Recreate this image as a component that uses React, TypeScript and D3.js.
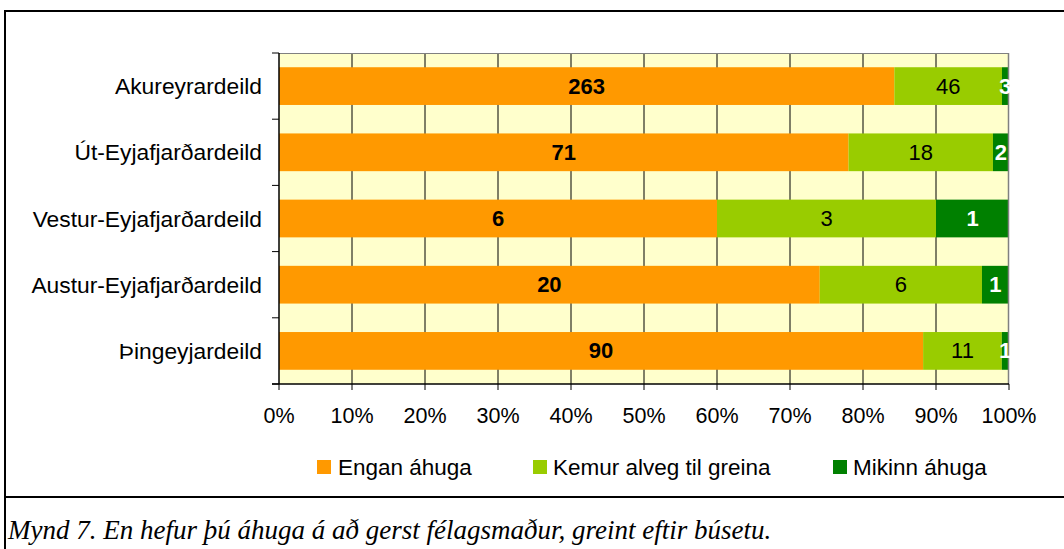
import React from "react";
import * as d3 from "d3";

const categories = ["Akureyrardeild", "Út-Eyjafjarðardeild", "Vestur-Eyjafjarðardeild", "Austur-Eyjafjarðardeild", "Þingeyjardeild"];
const enganAhuga = [263, 71, 6, 20, 90];
const kemurAlveg = [46, 18, 3, 6, 11];
const mikinnAhuga = [3, 2, 1, 1, 1];
const seriesNames = ["Engan áhuga", "Kemur alveg til greina", "Mikinn áhuga"];
const seriesColors = ["#FF9900", "#99CC00", "#008000"];
const labelStyles = [
  { fill: "#000", weight: "bold" },
  { fill: "#000", weight: "normal" },
  { fill: "#fff", weight: "bold" },
];
const xTicks = [0, 0.1, 0.2, 0.3, 0.4, 0.5, 0.6, 0.7, 0.8, 0.9, 1];
const caption = "Mynd 7. En hefur þú áhuga á að gerst félagsmaður, greint eftir búsetu.";

export default function App() {
  const W = 1064, H = 549;
  const left = 279, right = 1009, top = 53, bottom = 384;
  const x = d3.scaleLinear().domain([0, 1]).range([left, right]);
  const y = d3.scaleBand().domain(categories).range([top, bottom]).paddingInner(0.43).paddingOuter(0.215);
  const rows = categories.map((c, i) => [enganAhuga[i], kemurAlveg[i], mikinnAhuga[i]]);
  const stackData = rows.map((r) => {
    const tot = d3.sum(r);
    let acc = 0;
    return r.map((v) => { const s = acc / tot; acc += v; return { v, x0: s, x1: acc / tot }; });
  });
  const bandStep = (bottom - top) / categories.length;
  const font = "Arial, 'Liberation Sans', sans-serif";
  const legendItems = [
    { sq: 317, tx: 338 },
    { sq: 533, tx: 553 },
    { sq: 833, tx: 853 },
  ];
  return (
    <svg width={W} height={H} style={{ position: "absolute", left: 0, top: 0 }} fontFamily={font}>
      <rect x={0} y={0} width={W} height={H} fill="#fff" />
      {/* outer frame */}
      <line x1={5} y1={11} x2={W} y2={11} stroke="#000" strokeWidth={2} />
      <line x1={5} y1={10} x2={5} y2={H} stroke="#000" strokeWidth={2} />
      <line x1={5} y1={497} x2={W} y2={497} stroke="#000" strokeWidth={2} />
      {/* plot area */}
      <rect x={left} y={top} width={right - left} height={bottom - top} fill="#FFFFCC" />
      {xTicks.slice(1, -1).map((t) => (
        <line key={t} x1={x(t)} x2={x(t)} y1={top} y2={bottom} stroke="#000" strokeWidth={1} />
      ))}
      {stackData.map((segs, i) =>
        segs.map((s, j) => (
          <rect key={i + "-" + j} x={x(s.x0)} y={y(categories[i])!} width={x(s.x1) - x(s.x0)} height={y.bandwidth()} fill={seriesColors[j]} />
        ))
      )}
      <line x1={left} x2={right} y1={top + 0.5} y2={top + 0.5} stroke="#808080" strokeWidth={1} />
      <line x1={right - 0.5} x2={right - 0.5} y1={top} y2={bottom} stroke="#808080" strokeWidth={1.5} />
      {/* axes */}
      <line x1={left} x2={left} y1={top} y2={bottom} stroke="#000" strokeWidth={1.5} />
      <line x1={272} x2={right} y1={bottom} y2={bottom} stroke="#000" strokeWidth={1.5} />
      {d3.range(categories.length + 1).map((k) => (
        <line key={k} x1={272} x2={left} y1={top + k * bandStep} y2={top + k * bandStep} stroke="#000" strokeWidth={1} />
      ))}
      {xTicks.map((t) => (
        <line key={t} x1={x(t)} x2={x(t)} y1={bottom} y2={bottom + 6} stroke="#000" strokeWidth={1} />
      ))}
      {xTicks.map((t) => (
        <text key={t} x={x(t)} y={416} textAnchor="middle" dominantBaseline="central" fontSize={21.5}>
          {d3.format(".0%")(t)}
        </text>
      ))}
      {categories.map((c) => (
        <text key={c} x={262} y={y(c)! + y.bandwidth() / 2} textAnchor="end" dominantBaseline="central" fontSize={22.8}>
          {c}
        </text>
      ))}
      {stackData.map((segs, i) =>
        segs.map((s, j) => (
          <text key={"l" + i + "-" + j} x={(x(s.x0) + x(s.x1)) / 2} y={y(categories[i])! + y.bandwidth() / 2} textAnchor="middle" dominantBaseline="central" fontSize={22} fill={labelStyles[j].fill} fontWeight={labelStyles[j].weight}>
            {s.v}
          </text>
        ))
      )}
      {/* legend */}
      {seriesNames.map((n, j) => (
        <g key={n}>
          <rect x={legendItems[j].sq} y={460} width={14} height={14} fill={seriesColors[j]} />
          <text x={legendItems[j].tx} y={467} dominantBaseline="central" fontSize={22.5}>{n}</text>
        </g>
      ))}
      <text x={8} y={530} dominantBaseline="central" fontSize={27} fontStyle="italic" fontFamily="'Liberation Serif', 'Times New Roman', serif">
        {caption}
      </text>
    </svg>
  );
}
